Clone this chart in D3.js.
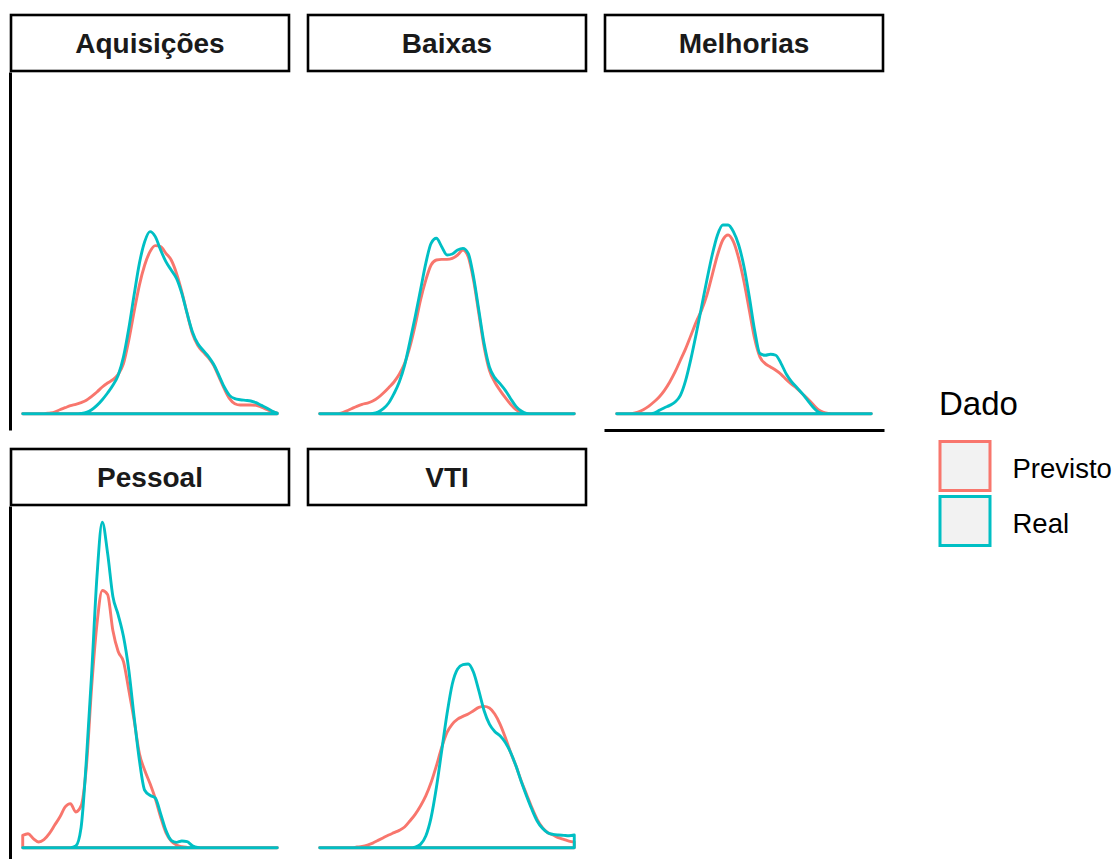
<!DOCTYPE html>
<html>
<head>
<meta charset="utf-8">
<script src="https://cdn.jsdelivr.net/npm/d3@7"></script>
<style>
  html, body { margin: 0; padding: 0; background: #ffffff; }
  svg { display: block; }
  text { font-family: "Liberation Sans", Arial, Helvetica, sans-serif; }
</style>
</head>
<body>
<svg id="chart" width="1119" height="859"></svg>
<script>
// Facet panels, in wrap order
const facets = ["Aquisições", "Baixas", "Melhorias", "Pessoal", "VTI"];
const seriesNames = ["Previsto", "Real"];
const seriesColors = ["#F8766D", "#00BFC4"];
const legendTitle = "Dado";

// Common evaluation grid for every density estimate
const gridX = [0,1,2,3,4,5,6,7,8,9,10,11,12,13,14,15,16,17,18,19,20,21,22,23,24,
  25,26,27,28,29,30,31,32,33,34,35,36,37,38,39,40,41,42,43,44,45,46,47,48];

// Density estimates per facet (Previsto / Real)
const aquisicoesPrevisto = [0,0,0,0,0,0.02,0.05,0.12,0.18,0.24,0.28,0.33,0.40,0.52,0.65,0.80,0.92,1.02,1.18,1.50,
  2.20,3.05,3.85,4.45,4.85,5.03,5.00,4.80,4.60,4.20,3.65,3.00,2.40,2.05,1.85,1.68,1.45,1.10,0.75,0.45,
  0.30,0.26,0.26,0.26,0.25,0.20,0.13,0.06,0.02];
const aquisicoesReal = [0,0,0,0,0,0,0,0,0,0,0,0.01,0.04,0.12,0.25,0.42,0.62,0.85,1.15,1.70,
  2.55,3.55,4.50,5.15,5.45,5.30,4.90,4.55,4.30,4.05,3.60,3.00,2.45,2.10,1.90,1.72,1.48,1.15,0.80,0.55,
  0.45,0.42,0.40,0.38,0.33,0.25,0.17,0.08,0.02];

const baixasPrevisto = [0,0,0,0,0.02,0.08,0.15,0.22,0.28,0.32,0.38,0.48,0.62,0.78,0.95,1.18,1.50,2.00,2.65,3.40,
  4.00,4.45,4.60,4.62,4.62,4.65,4.75,4.90,4.70,4.00,3.00,2.00,1.30,0.95,0.70,0.48,0.28,0.12,0.03,0,
  0,0,0,0,0,0,0,0,0];
const baixasReal = [0,0,0,0,0,0,0,0,0,0,0.01,0.05,0.15,0.32,0.60,0.95,1.45,2.15,2.90,3.70,
  4.50,5.10,5.25,5.00,4.75,4.78,4.90,4.95,4.80,4.10,3.10,2.10,1.40,1.08,0.90,0.70,0.45,0.22,0.08,0.01,
  0,0,0,0,0,0,0,0,0];

const melhoriasPrevisto = [0,0,0,0.01,0.05,0.12,0.22,0.35,0.50,0.70,0.95,1.25,1.60,1.95,2.35,2.75,3.10,3.55,4.15,4.75,
  5.20,5.35,5.15,4.65,3.95,3.10,2.25,1.70,1.50,1.40,1.30,1.18,1.02,0.88,0.75,0.60,0.45,0.28,0.12,0.04,
  0.01,0,0,0,0,0,0,0,0];
const melhoriasReal = [0,0,0,0,0,0,0,0.02,0.10,0.18,0.25,0.35,0.55,1.00,1.65,2.40,3.20,4.00,4.75,5.35,
  5.65,5.65,5.45,5.05,4.40,3.50,2.50,1.80,1.75,1.78,1.75,1.50,1.18,0.95,0.78,0.60,0.40,0.20,0.05,0,
  0,0,0,0,0,0,0,0,0];

const pessoalPrevisto = [0.37,0.42,0.27,0.17,0.24,0.42,0.67,0.92,1.22,1.32,1.07,1.25,2.42,4.82,6.70,7.70,7.58,6.50,5.87,5.57,
  4.72,3.82,2.82,2.32,1.92,1.47,0.92,0.45,0.20,0.08,0.03,0.01,0,0,0,0,0,0,0,0,
  0,0,0,0,0,0,0,0,0];
const pessoalReal = [0,0,0,0,0,0,0,0,0,0,0.05,0.60,2.62,5.22,8.12,9.74,8.82,7.52,6.97,6.32,
  5.32,3.92,2.62,1.72,1.57,1.49,1.02,0.52,0.22,0.16,0.20,0.18,0.06,0.01,0,0,0,0,0,0,
  0,0,0,0,0,0,0,0,0];

const vtiPrevisto = [0,0,0,0,0,0,0,0.02,0.04,0.08,0.14,0.22,0.30,0.38,0.45,0.52,0.62,0.80,1.00,1.25,
  1.55,1.95,2.45,3.00,3.45,3.70,3.85,3.93,4.00,4.10,4.20,4.23,4.18,4.00,3.70,3.30,2.85,2.45,2.00,1.60,
  1.20,0.85,0.60,0.45,0.38,0.30,0.25,0.20,0.17];
const vtiReal = [0,0,0,0,0,0,0,0,0,0,0,0,0,0,0,0,0,0,0.02,0.10,
  0.35,0.90,1.80,2.90,4.00,4.90,5.35,5.48,5.50,5.25,4.70,4.10,3.70,3.48,3.35,3.15,2.85,2.45,1.98,1.55,
  1.15,0.80,0.58,0.45,0.40,0.38,0.37,0.36,0.38];

const facetSeries = [
  [aquisicoesPrevisto, aquisicoesReal],
  [baixasPrevisto, baixasReal],
  [melhoriasPrevisto, melhoriasReal],
  [pessoalPrevisto, pessoalReal],
  [vtiPrevisto, vtiReal]
];

// ---- layout ----
const nCol = 3;
const colX = [10, 307, 604];
const rowY = [72, 506];
const panelW = 280, panelH = 358;
const stripH = 56, stripGap = 1;

const svg = d3.select("#chart");

// shared (fixed) scales with 5% expansion, as in facet_wrap defaults
const xMin = d3.min(gridX), xMax = d3.max(gridX);
const xPad = (xMax - xMin) * 0.05;
const yMax = d3.max(facetSeries.flat(2));
const yPad = yMax * 0.05;

facets.forEach((name, i) => {
  const col = i % nCol, row = Math.floor(i / nCol);
  const px = colX[col], py = rowY[row];

  const x = d3.scaleLinear().domain([xMin - xPad, xMax + xPad]).range([px, px + panelW]);
  const y = d3.scaleLinear().domain([-yPad, yMax + yPad]).range([py + panelH, py]);

  const g = svg.append("g").attr("class", "panel");

  // density outlines (full polygon outline, no fill)
  const area = d3.area()
    .x((d, k) => x(gridX[k]))
    .y0(y(0))
    .y1(d => y(d))
    .curve(d3.curveMonotoneX);

  facetSeries[i].forEach((vals, s) => {
    g.append("path")
      .attr("d", area(vals))
      .attr("fill", "none")
      .attr("stroke", seriesColors[s])
      .attr("stroke-width", 2.9)
      .attr("stroke-linejoin", "round");
  });

  // left axis line on first column
  if (col === 0) {
    const ax = svg.append("g")
      .attr("transform", `translate(${px},0)`)
      .call(d3.axisLeft(y).tickValues([]).tickSizeOuter(0));
    ax.select(".domain").attr("stroke", "#000").attr("stroke-width", 3);
  }
  // bottom axis line on the lowest panel of each column
  const isBottom = (i + nCol >= facets.length);
  if (isBottom) {
    const ax = svg.append("g")
      .attr("transform", `translate(0,${py + panelH})`)
      .call(d3.axisBottom(x).tickValues([]).tickSizeOuter(0));
    ax.select(".domain").attr("stroke", "#000").attr("stroke-width", 3);
  }

  // strip
  const sy = py - stripH - stripGap;
  svg.append("rect")
    .attr("x", px + 1).attr("y", sy)
    .attr("width", panelW - 2).attr("height", stripH)
    .attr("fill", "#ffffff")
    .attr("stroke", "#000")
    .attr("stroke-width", 2.6);
  svg.append("text")
    .attr("x", px + panelW / 2)
    .attr("y", sy + 38.3)
    .attr("text-anchor", "middle")
    .attr("font-size", 28)
    .attr("font-weight", "bold")
    .attr("fill", "#1A1A1A")
    .text(name);
});

// ---- legend ----
const legend = svg.append("g").attr("class", "legend");
legend.append("text")
  .attr("x", 939).attr("y", 415)
  .attr("font-size", 33)
  .attr("fill", "#000")
  .text(legendTitle);

seriesNames.forEach((nm, s) => {
  const ky = 441.5 + s * 55;
  legend.append("rect")
    .attr("x", 940).attr("y", ky)
    .attr("width", 50).attr("height", 49)
    .attr("fill", "#F2F2F2")
    .attr("stroke", seriesColors[s])
    .attr("stroke-width", 3);
  legend.append("text")
    .attr("x", 1012.5).attr("y", ky + 36.8)
    .attr("font-size", 27.5)
    .attr("fill", "#000")
    .text(nm);
});
</script>
</body>
</html>
